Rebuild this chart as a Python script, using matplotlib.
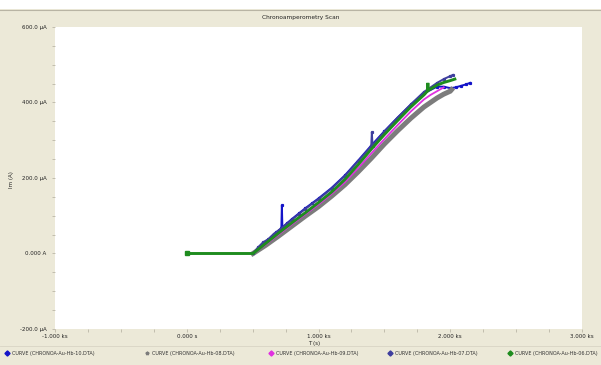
import matplotlib
matplotlib.use("Agg")
from matplotlib import pyplot as plt
from matplotlib.lines import Line2D
from matplotlib.patches import Rectangle
from matplotlib.ticker import FixedLocator, FixedFormatter, MultipleLocator

# time in s, current in uA
t10 = [503, 560, 600, 640, 680, 718, 722, 726, 760, 800, 850, 900, 950, 1000, 1100, 1200,
       1300, 1400, 1500, 1600, 1700, 1800, 1900, 1950, 2000, 2040, 2080, 2120, 2150]
i10 = [0, 20, 32, 44, 56, 67, 128, 69, 80, 92, 106, 120, 133, 146, 174, 207,
       246, 286, 324, 360, 394, 424, 442, 442, 438, 440, 444, 448, 452]

t08 = [503, 600, 700, 800, 900, 1000, 1100, 1200, 1300, 1400, 1500, 1600, 1700, 1800,
       1900, 1950, 2000, 2010]
i08 = [0, 22, 47, 73, 99, 124, 152, 182, 216, 252, 290, 325, 358, 388,
       412, 422, 430, 434]

t09 = [503, 600, 700, 800, 900, 1000, 1100, 1200, 1300, 1400, 1500, 1600, 1700, 1800,
       1850, 1900, 1950]
i09 = [0, 24, 51, 78, 104, 130, 158, 189, 226, 265, 303, 340, 376, 408,
       420, 430, 440]

t07 = [503, 540, 580, 620, 660, 700, 750, 800, 850, 900, 1000, 1100, 1200, 1300, 1400,
       1405, 1410, 1500, 1600, 1700, 1800, 1900, 1950, 2000, 2020]
i07 = [0, 16, 30, 38, 52, 62, 76, 90, 104, 118, 144, 172, 205, 244, 284,
       322, 286, 323, 360, 395, 428, 452, 462, 470, 473]

t06 = [0, 503, 600, 700, 800, 900, 1000, 1100, 1200, 1300, 1400, 1500, 1600, 1700, 1800,
       1826, 1830, 1834, 1900, 1950, 2000, 2035]
i06 = [0, 0, 27, 55, 82, 108, 135, 163, 196, 235, 276, 315, 352, 388, 420,
       430, 452, 432, 446, 453, 458, 462]

curve_names = ["CURVE (CHRONOA-Au-Hb-10.DTA)", "CURVE (CHRONOA-Au-Hb-08.DTA)",
               "CURVE (CHRONOA-Au-Hb-09.DTA)", "CURVE (CHRONOA-Au-Hb-07.DTA)",
               "CURVE (CHRONOA-Au-Hb-06.DTA)"]

x_ticks = [-1000, 0, 1000, 2000, 3000]
x_labels = ["-1.000 ks", "0.000 s", "1.000 ks", "2.000 ks", "3.000 ks"]
y_ticks = [-200, 0, 200, 400, 600]
y_labels = ["-200.0 \u00b5A", "0.000 A", "200.0 \u00b5A", "400.0 \u00b5A", "600.0 \u00b5A"]

W, H = 601, 365
bg = "#ECE9D8"
fig = plt.figure(figsize=(W / 100, H / 100), dpi=100)
fig.patch.set_facecolor(bg)

# white strip and divider line at the top
fig.add_artist(Rectangle((0, 1 - 9 / H), 1, 9 / H, transform=fig.transFigure,
                         facecolor="white", edgecolor="none"))
fig.add_artist(Line2D([0, 1], [1 - 9.5 / H] * 2, transform=fig.transFigure, color="#B8B4A4", lw=0.8))
# divider above the legend row
fig.add_artist(Line2D([0, 1], [1 - 345.5 / H] * 2, transform=fig.transFigure, color="#D8D4C4", lw=0.6))

ax = fig.add_axes([55 / W, 1 - 329 / H, 527 / W, 302 / H])
ax.set_facecolor("white")
for s in ax.spines.values():
    s.set_visible(False)

styles = [
    dict(color="#1414C8", lw=1.4, marker="s", ms=1.3),
    dict(color="#7C7C7C", lw=3.6),
    dict(color="#E030E0", lw=1.3),
    dict(color="#3E3E9E", lw=1.4, marker="s", ms=1.3),
    dict(color="#1E8C1E", lw=2.1),
]
series = [(t10, i10), (t08, i08), (t09, i09), (t07, i07), (t06, i06)]
for (t, i), st in zip(series, styles):
    ax.plot(t, i, solid_joinstyle="miter", **st)
ax.plot(t06[:1], i06[:1], "s", color="#1E8C1E", ms=2.2)

ax.set_xlim(-1000, 3000)
ax.set_ylim(-200, 600)
ax.xaxis.set_major_locator(FixedLocator(x_ticks))
ax.xaxis.set_major_formatter(FixedFormatter(x_labels))
ax.yaxis.set_major_locator(FixedLocator(y_ticks))
ax.yaxis.set_major_formatter(FixedFormatter(y_labels))
ax.xaxis.set_minor_locator(MultipleLocator(250))
ax.yaxis.set_minor_locator(MultipleLocator(50))
ax.tick_params(which="both", length=2, width=0.5, color="#B0AC9C", labelsize=4, labelcolor="#222222", pad=1.5)
ax.tick_params(axis="y", which="both", pad=4)

fig.text(0.5, 1 - 18 / H, "Chronoamperometry Scan", ha="center", va="center", fontsize=4.2, color="#222222")
fig.text(12 / W, 1 - 180 / H, "Im (A)", rotation=90, ha="center", va="center", fontsize=4, color="#222222")
fig.text(314 / W, 1 - 343 / H, "T (s)", ha="center", va="center", fontsize=4, color="#222222")

# legend row along the bottom
legend_x = [7, 147, 271, 390, 510]
legend_marker = ["D", "*", "D", "D", "D"]
for x, name, st, mk in zip(legend_x, curve_names, styles, legend_marker):
    fig.add_artist(Line2D([x / W], [1 - 353 / H], transform=fig.transFigure, marker=mk,
                          ms=2.6, color=st["color"], lw=0))
    fig.text((x + 5) / W, 1 - 353 / H, name, ha="left", va="center", fontsize=3.5, color="#333333")

fig.savefig("out.png", dpi=100, facecolor=bg)
